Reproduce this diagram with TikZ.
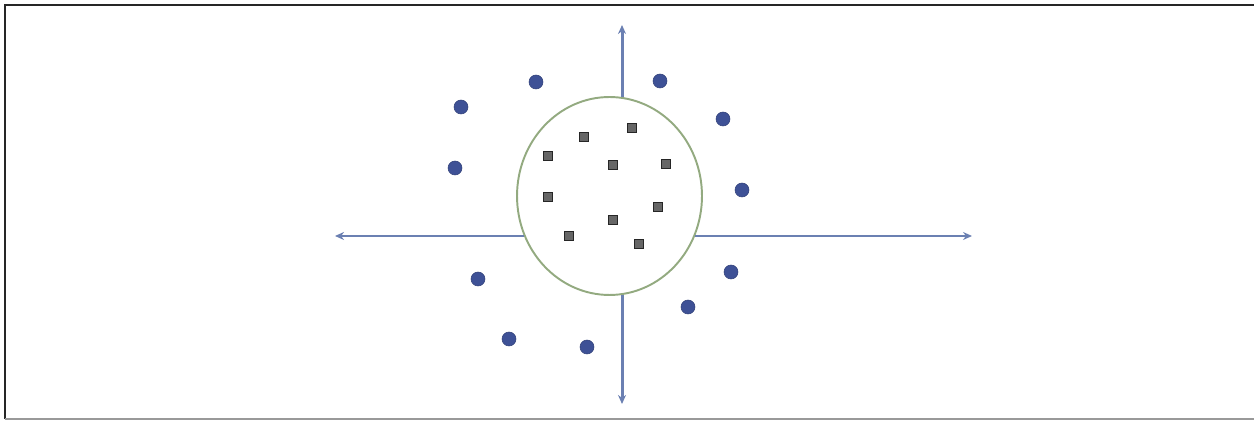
\documentclass[tikz,border=0pt]{standalone}
\usepackage{xcolor}
\usetikzlibrary{shapes.geometric,arrows.meta,positioning}
\definecolor{azulponto}{HTML}{3E5196}
\definecolor{azuleixo}{HTML}{6B80B2}
\definecolor{verdecirc}{HTML}{93AA80}
\tikzset{
  circulo/.style={ellipse,draw=verdecirc,line width=1.1pt,minimum width=3.7cm,minimum height=3.96cm,inner sep=0pt},
  ponto/.style={circle,fill=azulponto,draw=azulponto!80!black,line width=0.3pt,minimum size=2.8mm,inner sep=0pt},
  quadrado/.style={rectangle,fill=black!60,draw=black!85,line width=0.8pt,minimum size=1.7mm,inner sep=0pt},
  seta/.style={-{Stealth[length=1.8mm,width=1.6mm]},line width=1.7pt,azuleixo},
  moldura/.style={line width=1pt},
}

\begin{document}
\begin{tikzpicture}[x=0.02cm,y=-0.02cm]
\useasboundingbox (0,0) rectangle (1254,421);
% moldura
\draw[moldura,black!85] (5,419) -- (5,5) -- (1254,5);
\draw[moldura,black!40] (5,419) -- (1254,419);
% regiao central
\node[circulo] (circ) at (609.5,196) {};
% eixos
\coordinate (eN) at (622,25);
\coordinate (eS) at (622,404);
\coordinate (eO) at (335,236);
\coordinate (eL) at (972,236);
\draw[seta] (eN |- circ.82.7) -- (eN);
\draw[seta] (eS |- circ.-82.7) -- (eS);
\draw[seta] (circ.-154.7 |- eO) -- (eO);
\draw[seta] (circ.-25.3 |- eL) -- (eL);
% pontos externos
\node[ponto] (p1) at (536,82) {};
\node[ponto] (p2) at (461,107) {};
\node[ponto] (p3) at (455,168) {};
\node[ponto] (p4) at (660,81) {};
\node[ponto] (p5) at (723,119) {};
\node[ponto] (p6) at (742,190) {};
\node[ponto] (p7) at (731,272) {};
\node[ponto] (p8) at (688,307) {};
\node[ponto] (p9) at (478,279) {};
\node[ponto] (p10) at (509,339) {};
\node[ponto] (p11) at (587,347) {};
% pontos internos
\node[quadrado] (q1) at (584,137) {};
\node[quadrado] (q2) at (632,128) {};
\node[quadrado] (q3) at (548,156) {};
\node[quadrado] (q4) at (613,165) {};
\node[quadrado] (q5) at (666,164) {};
\node[quadrado] (q6) at (548,197) {};
\node[quadrado] (q7) at (658,207) {};
\node[quadrado] (q8) at (613,220) {};
\node[quadrado] (q9) at (569,236) {};
\node[quadrado] (q10) at (639,244) {};
\end{tikzpicture}
\end{document}
